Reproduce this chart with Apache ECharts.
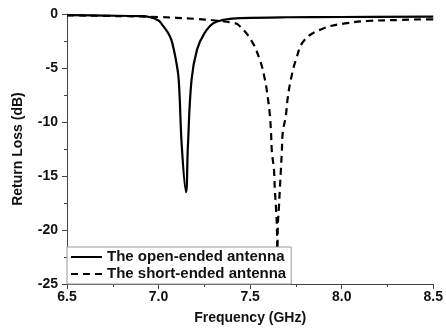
<!DOCTYPE html>
<html>
<head>
<meta charset="utf-8">
<script src="https://cdn.jsdelivr.net/npm/echarts@6/dist/echarts.min.js"></script>
<style>
  html, body { margin: 0; padding: 0; background: #fff; }
  #chart { width: 446px; height: 332px; }
</style>
</head>
<body>
<div id="chart"></div>
<script>
// open-ended antenna (solid)
const openFreq = [6.5, 6.7, 6.9, 6.95, 7.0, 7.02, 7.05, 7.07, 7.095, 7.11, 7.127, 7.15, 7.16, 7.18, 7.21, 7.25, 7.3, 7.37, 7.45, 7.7, 8.0, 8.5];
const openLoss = [-0.1, -0.15, -0.2, -0.28, -0.6, -1.0, -1.7, -2.4, -4.3, -6.1, -12.3, -16.5, -12.3, -6.1, -3.3, -1.8, -0.85, -0.5, -0.38, -0.3, -0.28, -0.25];

// short-ended antenna (dashed)
const shortFreq = [6.5, 6.8, 7.0, 7.2, 7.31, 7.4, 7.435, 7.505, 7.554, 7.581, 7.597, 7.608, 7.614, 7.619, 7.63, 7.635, 7.641, 7.646, 7.649, 7.651, 7.657, 7.662, 7.668, 7.673, 7.678, 7.695, 7.705, 7.722, 7.749, 7.797, 7.905, 8.03, 8.14, 8.32, 8.45, 8.5];
const shortLoss = [-0.12, -0.2, -0.28, -0.45, -0.6, -0.8, -1.0, -2.4, -4.3, -6.1, -7.8, -9.4, -11.0, -12.8, -14.4, -16.3, -17.9, -19.7, -23.5, -19.7, -17.9, -16.3, -14.4, -12.8, -11.0, -9.4, -7.8, -6.1, -4.3, -2.4, -1.3, -0.85, -0.65, -0.55, -0.5, -0.5];

const xTicks = { min: 6.5, max: 8.5, step: 0.5 };
const yTicks = { min: -25, max: 0, step: 5 };

const font = 'Liberation Sans, Arial, sans-serif';
const axisColor = '#444';

const chart = echarts.init(document.getElementById('chart'), null, { renderer: 'canvas' });

chart.setOption({
  animation: false,
  backgroundColor: '#fff',
  grid: { left: 67, right: 9, top: 14, bottom: 48 },
  legend: {
    orient: 'vertical',
    left: 67,
    top: 247,
    padding: [2, 5, 2, 3],
    itemGap: 1,
    itemWidth: 31,
    itemHeight: 14,
    backgroundColor: '#fff',
    borderColor: '#999',
    borderWidth: 1,
    borderRadius: 0,
    itemStyle: { opacity: 0 },
    textStyle: { fontFamily: font, fontWeight: 'bold', fontSize: 15, color: '#111', lineHeight: 16 },
    data: ['The open-ended antenna', 'The short-ended antenna']
  },
  xAxis: {
    type: 'value',
    min: xTicks.min,
    max: xTicks.max,
    interval: xTicks.step,
    name: 'Frequency (GHz)',
    nameLocation: 'middle',
    nameGap: 27,
    nameTextStyle: { fontFamily: font, fontWeight: 'bold', fontSize: 14, color: '#111' },
    axisLine: { onZero: false, lineStyle: { color: axisColor, width: 1 } },
    axisTick: { show: true, inside: false, length: 5, lineStyle: { color: axisColor } },
    minorTick: { show: true, splitNumber: 2, length: 3, lineStyle: { color: axisColor } },
    axisLabel: { fontFamily: font, fontWeight: 'bold', fontSize: 14, color: '#111', margin: 6, formatter: v => v.toFixed(1) },
    splitLine: { show: false }
  },
  yAxis: {
    type: 'value',
    min: yTicks.min,
    max: yTicks.max,
    interval: yTicks.step,
    name: 'Return Loss (dB)',
    nameLocation: 'middle',
    nameGap: 42,
    nameTextStyle: { fontFamily: font, fontWeight: 'bold', fontSize: 14, color: '#111' },
    axisLine: { show: true, onZero: false, lineStyle: { color: axisColor, width: 1 } },
    axisTick: { show: true, inside: false, length: 5, lineStyle: { color: axisColor } },
    minorTick: { show: true, splitNumber: 2, length: 3, lineStyle: { color: axisColor } },
    axisLabel: { fontFamily: font, fontWeight: 'bold', fontSize: 14, color: '#111', margin: 9 },
    splitLine: { show: false }
  },
  series: [
    {
      name: 'The open-ended antenna',
      type: 'line',
      data: openFreq.map((f, i) => [f, openLoss[i]]),
      symbol: 'none',
      smooth: 0.4,
      lineStyle: { color: '#000', width: 2.2, type: 'solid' },
      itemStyle: { color: '#000' }
    },
    {
      name: 'The short-ended antenna',
      type: 'line',
      data: shortFreq.map((f, i) => [f, shortLoss[i]]),
      symbol: 'none',
      smooth: 0.4,
      lineStyle: { color: '#000', width: 2.2, type: [7, 5] },
      itemStyle: { color: '#000' }
    }
  ]
});
</script>
</body>
</html>
